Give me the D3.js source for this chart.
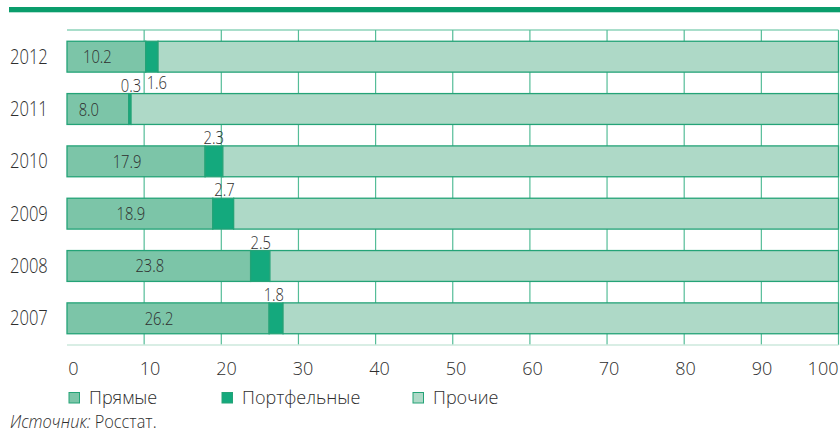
<!DOCTYPE html>
<html><head><meta charset="utf-8">
<script src="https://cdn.jsdelivr.net/npm/d3@7/dist/d3.min.js"></script>
<style>
html,body{margin:0;padding:0;background:#fff;}
svg{display:block;font-family:"Open Sans","Noto Sans",sans-serif;font-weight:350;}
</style></head>
<body>
<svg id="chart" width="840" height="433"></svg>
<script>
const years = ["2012","2011","2010","2009","2008","2007"];
const direct = [10.2, 8.0, 17.9, 18.9, 23.8, 26.2];
const portfolio = [1.6, 0.3, 2.3, 2.7, 2.5, 1.8];
const seriesNames = ["Прямые","Портфельные","Прочие"];
const xTicks = [0,10,20,30,40,50,60,70,80,90,100];
const sourceLabel = "Источник:";
const sourceText = " Росстат.";

const colors = {direct:"#7cc5a8", portfolio:"#14a97d", other:"#aed9c7"};
const stroke = "#24a377";
const textColor = "#2e2e2e";

const svg = d3.select("#chart");
const x = d3.scaleLinear().domain([0,100]).range([67,838.5]);
const xLab = d3.scaleLinear().domain([0,100]).range([73.5,838.5]);
const y = d3.scaleBand().domain(years).range([30,345]).paddingInner(0.41).paddingOuter(0.215);

function txt(g, px, py, s, size, sx, anchor){
  return g.append("text")
    .attr("transform", `translate(${px},${py}) scale(${sx},1)`)
    .attr("font-size", size)
    .attr("fill", textColor)
    .attr("text-anchor", anchor || "start")
    .text(s);
}

// top band
svg.append("rect").attr("x",9).attr("y",7).attr("width",831).attr("height",5.3).attr("fill","#0a9d6c");

// grid
const grid = svg.append("g");
grid.selectAll("line.v").data(xTicks.filter(d=>d>0)).join("line")
  .attr("x1",d=>x(d)).attr("x2",d=>x(d)).attr("y1",30).attr("y2",345)
  .attr("stroke","#55bd98").attr("stroke-width",1.2);
grid.append("line").attr("x1",x(0)).attr("x2",x(100)).attr("y1",30).attr("y2",30)
  .attr("stroke","#55bd98").attr("stroke-width",1.2);
grid.append("line").attr("x1",x(0)).attr("x2",x(100)).attr("y1",345).attr("y2",345)
  .attr("stroke","#cde8dd").attr("stroke-width",1.5);

// bars
const rows = years.map((yr,i)=>({yr, d:direct[i], p:portfolio[i], o:100-direct[i]-portfolio[i]}));
const bars = svg.append("g");
rows.forEach(r=>{
  const segs = [
    {x0:0, x1:r.d, c:colors.direct},
    {x0:r.d, x1:r.d+r.p, c:colors.portfolio},
    {x0:r.d+r.p, x1:100, c:colors.other}
  ];
  bars.selectAll(null).data(segs).join("rect")
    .attr("x",s=>x(s.x0)).attr("width",s=>x(s.x1)-x(s.x0))
    .attr("y",y(r.yr)).attr("height",y.bandwidth())
    .attr("fill",s=>s.c).attr("stroke",stroke).attr("stroke-width",1.3);
});

// labels
const lab = svg.append("g");
rows.forEach(r=>{
  const cy = y(r.yr)+y.bandwidth()/2;
  txt(lab, (x(0)+x(r.d))/2 - 9, cy+6.5, r.d.toFixed(1), 18, 0.82, "middle");
  const top = y(r.yr), bot = y(r.yr)+y.bandwidth();
  if (r.yr === "2012") {
    txt(lab, x(r.d)+1, bot+17, r.p.toFixed(1), 18, 0.82, "start");
  } else if (r.yr === "2011") {
    txt(lab, x(10)-3, top-2, r.p.toFixed(1), 18, 0.82, "end");
  } else {
    txt(lab, x(r.d+r.p)+1, top-2, r.p.toFixed(1), 18, 0.82, "end");
  }
  txt(lab, 10, cy+7, r.yr, 19.5, 0.85, "start");
});

// x tick labels
const ax = svg.append("g");
xTicks.forEach((t,i)=>{
  const last = i===xTicks.length-1;
  txt(ax, last ? 838.5 : xLab(t), 375, String(t), 19, 0.95, last?"end":"middle");
});

// legend
const legendX = [69, 222, 413];
const legColors = [colors.direct, colors.portfolio, colors.other];
const leg = svg.append("g");
seriesNames.forEach((n,i)=>{
  leg.append("rect").attr("x",legendX[i]).attr("y",392.5).attr("width",10.5).attr("height",10.5)
    .attr("fill",legColors[i]).attr("stroke",stroke).attr("stroke-width",1);
  txt(leg, legendX[i]+20, 404, n, 19, 0.95, "start");
});

// source
const src = svg.append("text").attr("transform","translate(10,428) scale(0.91,1)")
  .attr("font-size",18).attr("fill",textColor);
src.append("tspan").attr("font-style","italic").text(sourceLabel);
src.append("tspan").text(sourceText);
</script>
</body></html>
